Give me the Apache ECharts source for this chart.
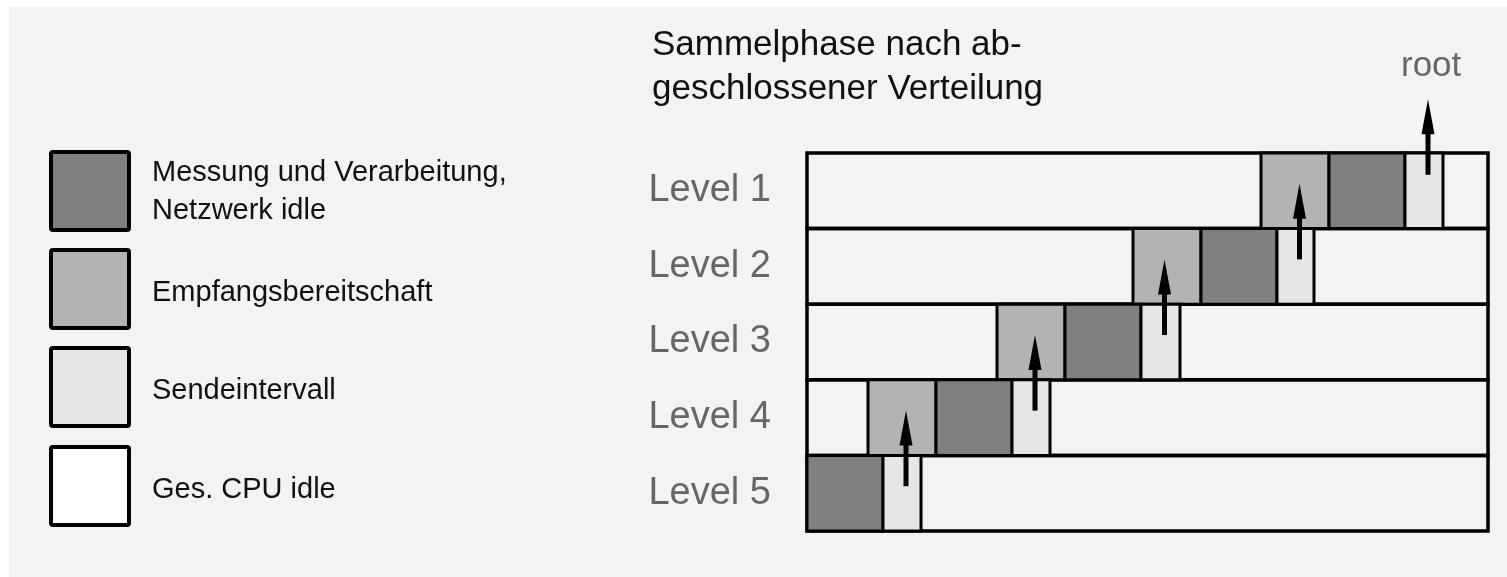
<!DOCTYPE html>
<html>
<head>
<meta charset="utf-8">
<script src="https://cdn.jsdelivr.net/npm/echarts@6/dist/echarts.min.js"></script>
<style>
html,body{margin:0;padding:0;background:#fff;}
#chart{width:1507px;height:577px;}
</style>
</head>
<body>
<div id="chart"></div>
<script>
// ---- data ----
const levels = ['Level 1', 'Level 2', 'Level 3', 'Level 4', 'Level 5'];
const timeMax = 681;
const empfangStart = [454, 326, 190, 61, null];
const empfangDur   = [68, 68, 68, 68, null];
const messungStart = [522, 394, 258, 129, 0];
const messungDur   = [76, 76, 76, 76, 76];
const sendeStart   = [598, 470, 334, 205, 76];
const sendeDur     = [38, 37, 39, 38, 38];
const legendLabels = ['Messung und Verarbeitung,\nNetzwerk idle', 'Empfangsbereitschaft', 'Sendeintervall', 'Ges. CPU idle'];
const titleLines = ['Sammelphase nach ab-', 'geschlossener Verteilung'];
const rootLabel = 'root';

const C_DARK = '#808080', C_MED = '#b3b3b3', C_LIGHT = '#e6e6e6', C_IDLE = '#ffffff';
const FONT = '"Liberation Sans", Arimo, Arial, sans-serif';

function cellData(starts, durs) {
  const out = [];
  starts.forEach((s, i) => { if (s !== null) out.push([s, durs[i], i]); });
  return out;
}

function cellRender(fill) {
  return function (params, api) {
    const s = api.value(0), d = api.value(1), li = api.value(2);
    const p0 = api.coord([s, li]);
    const p1 = api.coord([s + d, li]);
    const h = api.size([0, 1])[1];
    return {
      type: 'rect',
      shape: { x: p0[0], y: p0[1] - h / 2, width: p1[0] - p0[0], height: h },
      style: { fill: fill, stroke: '#000', lineWidth: 3 }
    };
  };
}

const rowData = levels.map((l, i) => [0, timeMax, i]);
const arrowData = levels.map((l, i) => [sendeStart[i] + sendeDur[i] / 2, i]);

const chart = echarts.init(document.getElementById('chart'), null, { renderer: 'canvas' });

const legendGraphics = [];
const boxTops = [152, 250, 348, 447];
const boxFills = [C_DARK, C_MED, C_LIGHT, C_IDLE];
legendLabels.forEach((lab, i) => {
  legendGraphics.push({
    type: 'rect', shape: { x: 51, y: boxTops[i], width: 78, height: 78, r: 2 },
    style: { fill: boxFills[i], stroke: '#000', lineWidth: 4 }
  });
  legendGraphics.push({
    type: 'text', x: 152, y: boxTops[i] + 39 + (i === 0 ? 1 : 4),
    style: { text: lab, font: '29px ' + FONT, fill: '#111', verticalAlign: 'middle', lineHeight: 38 }
  });
});

chart.setOption({
  backgroundColor: '#ffffff',
  animation: false,
  grid: { left: 807, right: 19, top: 153, bottom: 46 },
  xAxis: { type: 'value', min: 0, max: timeMax, show: false },
  yAxis: {
    type: 'category', data: levels, inverse: true,
    axisLine: { show: false }, axisTick: { show: false }, splitLine: { show: false },
    axisLabel: { color: '#666', fontSize: 38, fontFamily: FONT, margin: 36, padding: [0, 0, 8, 0] }
  },
  graphic: [
    { type: 'rect', z: -10, silent: true, shape: { x: 9, y: 7, width: 1498, height: 570 }, style: { fill: '#f3f3f3' } },
    { type: 'text', x: 652, y: 45, style: { text: titleLines[0], font: '35px ' + FONT, fill: '#111', verticalAlign: 'middle' } },
    { type: 'text', x: 652, y: 89, style: { text: titleLines[1], font: '35px ' + FONT, fill: '#111', verticalAlign: 'middle' } },
    { type: 'text', x: 1401, y: 66, style: { text: rootLabel, font: '35px ' + FONT, fill: '#666', verticalAlign: 'middle' } }
  ].concat(legendGraphics),
  series: [
    {
      type: 'custom', name: 'idle', data: rowData, encode: { x: [0, 1], y: 2 },
      renderItem: function (params, api) {
        const li = api.value(2);
        const p0 = api.coord([api.value(0), li]);
        const p1 = api.coord([api.value(1), li]);
        const h = api.size([0, 1])[1];
        return { type: 'rect', shape: { x: p0[0], y: p0[1] - h / 2, width: p1[0] - p0[0], height: h },
          style: { fill: 'rgba(0,0,0,0)', stroke: '#000', lineWidth: 3.5 } };
      }
    },
    { type: 'custom', name: 'Empfangsbereitschaft', data: cellData(empfangStart, empfangDur), encode: { x: [0, 1], y: 2 }, renderItem: cellRender(C_MED) },
    { type: 'custom', name: 'Messung', data: cellData(messungStart, messungDur), encode: { x: [0, 1], y: 2 }, renderItem: cellRender(C_DARK) },
    { type: 'custom', name: 'Sendeintervall', data: cellData(sendeStart, sendeDur), encode: { x: [0, 1], y: 2 }, renderItem: cellRender(C_LIGHT) },
    {
      type: 'custom', name: 'arrows', data: arrowData, encode: { x: 0, y: 1 }, z: 5,
      renderItem: function (params, api) {
        const li = api.value(1);
        const c = api.coord([api.value(0), li]);
        const h = api.size([0, 1])[1];
        const x = c[0] + 4;
        const tail = c[1] - (li === 0 ? 16 : 7);
        const tip = tail - h;
        return {
          type: 'group',
          children: [
            { type: 'rect', shape: { x: x - 2.5, y: tip + 30, width: 5, height: tail - tip - 30 }, style: { fill: '#000' } },
            { type: 'polygon', shape: { points: [[x - 6.5, tip + 35], [x + 6.5, tip + 35], [x, tip]] }, style: { fill: '#000' } }
          ]
        };
      }
    }
  ]
});
</script>
</body>
</html>
